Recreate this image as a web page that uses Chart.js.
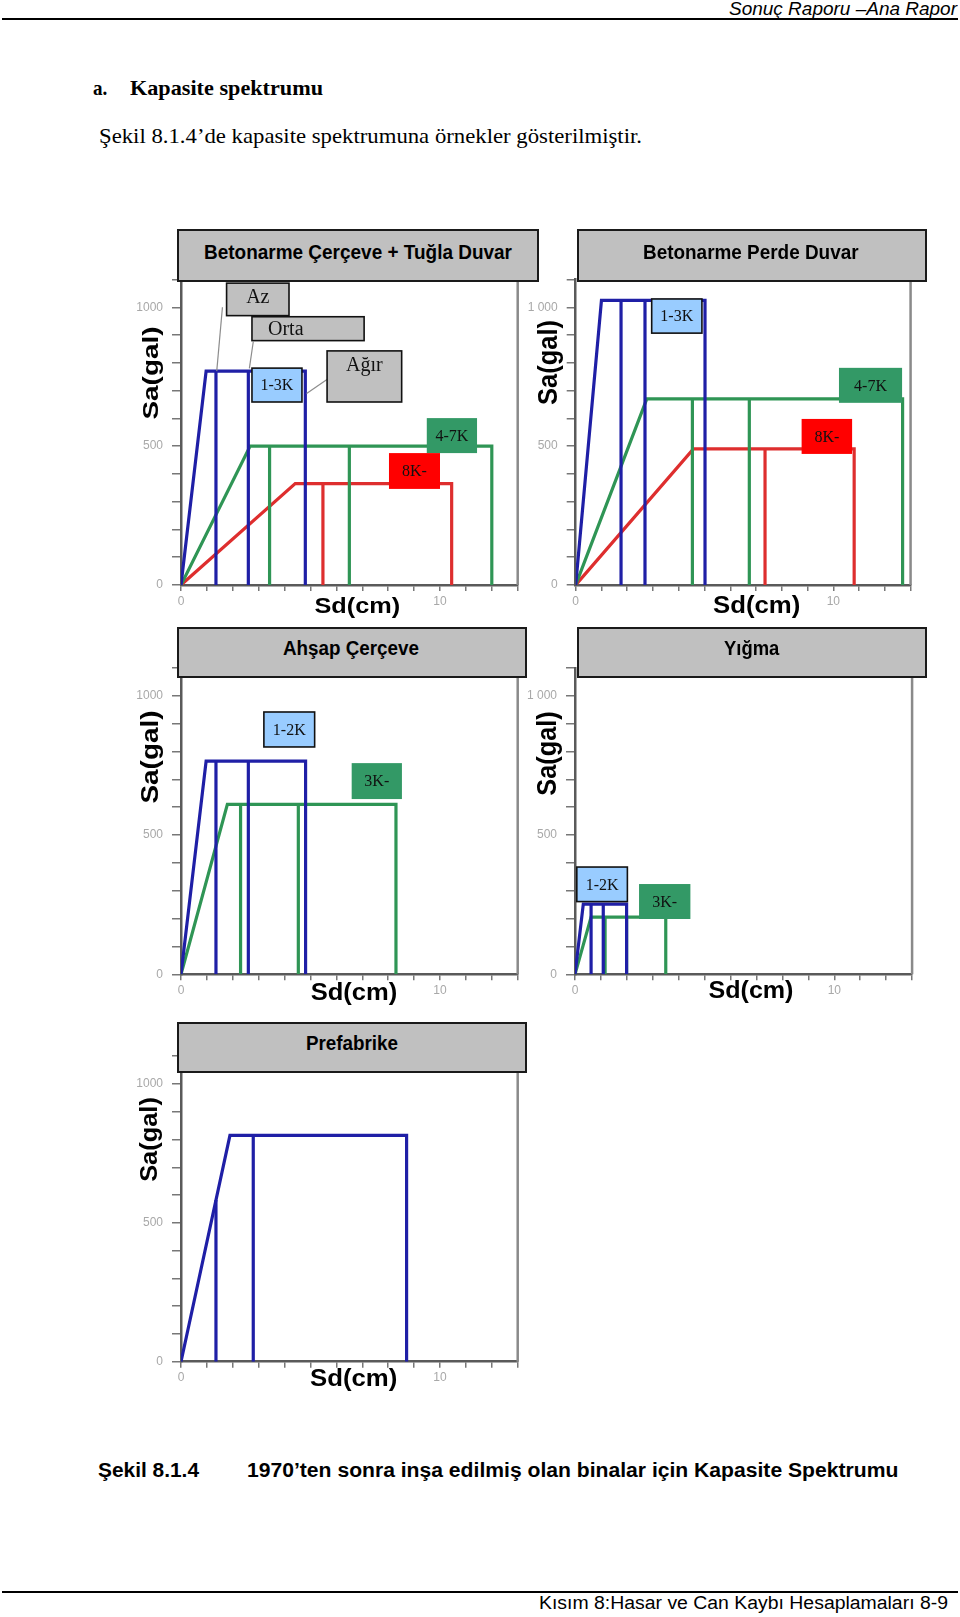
<!DOCTYPE html>
<html>
<head>
<meta charset="utf-8">
<script src="https://cdn.jsdelivr.net/npm/chart.js"></script>
<style>
  body { margin: 0; background: #fff; }
  #page { position: relative; width: 960px; height: 1617px; background: #fff; overflow: hidden; }
  .rule { position: absolute; left: 2px; width: 956px; height: 2px; background: #000; }
  .titlebox { position: absolute; box-sizing: border-box; background: #c0c0c0; border: 2px solid #1a1a1a; z-index: 3; }
  canvas { position: absolute; z-index: 1; }
</style>
</head>
<body>
<div id="page">
  <div class="rule" style="top:18px"></div>
  <div class="rule" style="top:1591px"></div>
</div>
<script>
// tick labels
var xTickValues = [0, 10];
var xTickLabels = ['0', '10'];
var yTickValues = [0, 500, 1000];
var yTickLabels = ['0', '500', '1000'];
var yTickLabelsSpaced = ['0', '500', '1 000'];

// blue, green, red
var seriesColors = ['#1f1fa6', '#2f9555', '#de2e2e'];

// Betonarme Çerçeve + Tuğla Duvar
var rcInfillGroups = ['1-3K', '4-7K', '8K-'];
var rcInfillYieldSd = [0.97, 2.67, 4.41];
var rcInfillYieldSa = [770, 500, 365];
var rcInfillLimits = [[1.35, 2.6, 4.8], [3.42, 6.5, 12.0], [5.48, 10.45]];

// Betonarme Perde Duvar
var rcWallGroups = ['1-3K', '4-7K', '8K-'];
var rcWallYieldSd = [1.0, 2.76, 4.57];
var rcWallYieldSa = [1025, 670, 490];
var rcWallLimits = [[1.76, 2.69, 5.02], [4.53, 6.74, 12.69], [7.35, 10.81]];

// Ahşap Çerçeve
var timberGroups = ['1-2K', '3K-'];
var timberYieldSd = [0.97, 1.79];
var timberYieldSa = [765, 610];
var timberLimits = [[1.35, 2.6, 4.81], [2.3, 4.53, 8.3]];

// Yığma
var masonryGroups = ['1-2K', '3K-'];
var masonryYieldSd = [0.32, 0.62];
var masonryYieldSa = [252, 205];
var masonryLimits = [[0.62, 1.09, 1.99], [1.16, 1.99, 3.5]];

// Prefabrike
var precastGroups = ['Prefabrike'];
var precastYieldSd = [1.89];
var precastYieldSa = [815];
var precastLimits = [[1.35, 2.79, 8.71]];

var page = document.getElementById('page');

// place a text so that it fills a measured width on the page
function addText(str, o) {
    var el = document.createElement('div');
    el.textContent = str;
    el.style.position = 'absolute';
    el.style.whiteSpace = 'nowrap';
    el.style.fontFamily = o.family;
    el.style.fontSize = o.size + 'px';
    el.style.lineHeight = o.size + 'px';
    el.style.fontWeight = o.weight || 'normal';
    el.style.fontStyle = o.style || 'normal';
    el.style.color = '#000';
    el.style.zIndex = 5;
    page.appendChild(el);
    var w = el.getBoundingClientRect().width;
    var asc = o.family.indexOf('Serif') >= 0 ? 0.8375 : 0.8465;
    if (o.cx !== undefined) {
        var sx = o.len / w;
        el.style.transformOrigin = '50% 50%';
        if (o.rotate) {
            el.style.left = (o.cx - 0.0865 * o.size - w / 2) + 'px';
            el.style.top = (o.cy - o.size / 2) + 'px';
            el.style.transform = 'rotate(-90deg) scaleX(' + sx + ')';
        } else {
            el.style.left = (o.cx - w / 2) + 'px';
            el.style.top = (o.cy - 0.5865 * o.size) + 'px';
            el.style.transform = 'scaleX(' + sx + ')';
        }
    } else {
        el.style.left = o.left + 'px';
        el.style.top = (o.baseline - asc * o.size) + 'px';
        el.style.transformOrigin = '0 0';
        el.style.transform = 'scaleX(' + ((o.right - o.left) / w) + ')';
    }
}

// page texts
addText('Sonuç Raporu –Ana Rapor', {family: 'Liberation Sans', size: 19, style: 'italic', left: 729, right: 957, baseline: 15.5});
addText('a.', {family: 'Liberation Serif', size: 21, weight: 'bold', left: 92.7, right: 107, baseline: 96});
addText('Kapasite spektrumu', {family: 'Liberation Serif', size: 21, weight: 'bold', left: 130, right: 323, baseline: 96});
addText('Şekil 8.1.4’de kapasite spektrumuna örnekler gösterilmiştir.', {family: 'Liberation Serif', size: 22, left: 99, right: 642, baseline: 143});
addText('Şekil 8.1.4', {family: 'Liberation Sans', size: 20, weight: 'bold', left: 98, right: 199, baseline: 1477});
addText('1970’ten sonra inşa edilmiş olan binalar için Kapasite Spektrumu', {family: 'Liberation Sans', size: 20, weight: 'bold', left: 246.7, right: 898, baseline: 1477});
addText('Kısım 8:Hasar ve Can Kaybı Hesaplamaları  8-9', {family: 'Liberation Sans', size: 18, left: 539, right: 948, baseline: 1609});

// label boxes and leader lines, right frame line
var panelDecor = {
    id: 'panelDecor',
    afterDatasetsDraw: function(chart, args, opts) {
        var ctx = chart.ctx, xs = chart.scales.x, ys = chart.scales.y, a = chart.chartArea;
        ctx.save();
        ctx.strokeStyle = '#8a8a8a';
        ctx.lineWidth = 2.5;
        ctx.beginPath();
        ctx.moveTo(a.right, a.top);
        ctx.lineTo(a.right, a.bottom);
        ctx.stroke();

        (opts.leaders || []).forEach(function(l) {
            ctx.strokeStyle = '#8c8c8c';
            ctx.lineWidth = 1.2;
            ctx.beginPath();
            ctx.moveTo(xs.getPixelForValue(l[0][0]), ys.getPixelForValue(l[0][1]));
            ctx.lineTo(xs.getPixelForValue(l[1][0]), ys.getPixelForValue(l[1][1]));
            ctx.stroke();
        });

        (opts.notes || []).forEach(function(n) {
            var x1 = xs.getPixelForValue(n.x[0]), x2 = xs.getPixelForValue(n.x[1]);
            var y1 = ys.getPixelForValue(n.y[0]), y2 = ys.getPixelForValue(n.y[1]);
            ctx.fillStyle = n.fill;
            ctx.fillRect(x1, y1, x2 - x1, y2 - y1);
            if (n.border) {
                ctx.strokeStyle = '#111';
                ctx.lineWidth = 1.6;
                ctx.strokeRect(x1, y1, x2 - x1, y2 - y1);
            }
            var size = n.size || 16;
            ctx.font = size + 'px "Liberation Serif"';
            ctx.fillStyle = '#111';
            ctx.textBaseline = 'alphabetic';
            var base = n.top ? y1 + 7 + 0.66 * size : (y1 + y2) / 2 + 0.33 * size;
            if (n.left) {
                ctx.textAlign = 'left';
                ctx.fillText(n.text, x1 + n.left, base);
            } else {
                ctx.textAlign = 'center';
                ctx.fillText(n.text, (x1 + x2) / 2, base);
            }
        });
        ctx.restore();
    }
};

function buildDatasets(p) {
    var ds = [];
    p.yieldSd.forEach(function(dy, g) {
        var ay = p.yieldSa[g];
        var lim = p.limits[g];
        var du = lim[lim.length - 1];
        var color = seriesColors[p.colors[g]];
        var style = {borderColor: color, borderWidth: 3.2, showLine: true, pointRadius: 0, tension: 0, fill: false};
        ds.push(Object.assign({label: p.groups[g], data: [{x: 0, y: 0}, {x: dy, y: ay}, {x: du, y: ay}, {x: du, y: 0}]}, style));
        lim.slice(0, -1).forEach(function(t) {
            ds.push(Object.assign({label: p.groups[g], data: [{x: t, y: 0}, {x: t, y: t < dy ? ay * t / dy : ay}]}, style));
        });
    });
    return ds;
}

var panels = [
    {
        title: 'Betonarme Çerçeve + Tuğla Duvar', groups: rcInfillGroups,
        yieldSd: rcInfillYieldSd, yieldSa: rcInfillYieldSa, limits: rcInfillLimits, colors: [0, 1, 2],
        yLabels: yTickLabels,
        x0: 181, pxCm: 25.9, y0: 585, pxGal: 0.2777,
        box: [176.7, 229.3, 539, 281.7], titleText: [204, 512, 259.3],
        sa: {cx: 152.7, cy: 373.3, len: 93, size: 22}, sd: {cx: 357.2, cy: 608.3, len: 85.7, size: 22},
        notes: [
            {text: 'Az', x: [1.76, 4.17], y: [1087, 970], fill: '#c0c0c0', border: true, size: 20, top: true},
            {text: 'Orta', x: [2.74, 7.07], y: [966, 880], fill: '#c0c0c0', border: true, size: 20, left: 16},
            {text: 'Ağır', x: [5.64, 8.52], y: [843, 659], fill: '#c0c0c0', border: true, size: 20, top: true},
            {text: '1-3K', x: [2.74, 4.67], y: [781, 659], fill: '#99ccff', border: true},
            {text: '4-7K', x: [9.49, 11.43], y: [601, 475], fill: '#339966'},
            {text: '8K-', x: [8.03, 10.0], y: [475, 346], fill: '#ff0000'}
        ],
        leaders: [[[1.6, 1000], [1.38, 770]], [[2.79, 876], [2.64, 780]], [[5.65, 741], [4.85, 690]]]
    },
    {
        title: 'Betonarme Perde Duvar', groups: rcWallGroups,
        yieldSd: rcWallYieldSd, yieldSa: rcWallYieldSa, limits: rcWallLimits, colors: [0, 1, 2],
        yLabels: yTickLabelsSpaced,
        x0: 575.7, pxCm: 25.76, y0: 585, pxGal: 0.2777,
        box: [576.7, 229.3, 927.3, 281.7], titleText: [643.4, 859, 259.3],
        sa: {cx: 550, cy: 362.5, len: 85, size: 27}, sd: {cx: 756.3, cy: 606.7, len: 87.3, size: 24},
        notes: [
            {text: '1-3K', x: [2.95, 4.90], y: [1030, 907], fill: '#99ccff', border: true},
            {text: '4-7K', x: [10.22, 12.67], y: [782, 656], fill: '#339966'},
            {text: '8K-', x: [8.77, 10.73], y: [598, 472], fill: '#ff0000'}
        ]
    },
    {
        title: 'Ahşap Çerçeve', groups: timberGroups,
        yieldSd: timberYieldSd, yieldSa: timberYieldSa, limits: timberLimits, colors: [0, 1],
        yLabels: yTickLabels,
        x0: 181, pxCm: 25.9, y0: 974.3, pxGal: 0.2786,
        box: [176.7, 626.7, 527.3, 677.7], titleText: [283.3, 419.3, 655.7],
        sa: {cx: 152, cy: 757.3, len: 93, size: 24}, sd: {cx: 354, cy: 994.2, len: 86.6, size: 23},
        notes: [
            {text: '1-2K', x: [3.20, 5.16], y: [941.5, 816], fill: '#99ccff', border: true},
            {text: '3K-', x: [6.59, 8.53], y: [758, 629], fill: '#339966'}
        ]
    },
    {
        title: 'Yığma', groups: masonryGroups,
        yieldSd: masonryYieldSd, yieldSa: masonryYieldSa, limits: masonryLimits, colors: [0, 1],
        yLabels: yTickLabelsSpaced,
        x0: 575, pxCm: 25.93, y0: 974.3, pxGal: 0.2786,
        box: [576.7, 626.7, 927.3, 678.3], titleText: [724, 779.3, 655.7],
        sa: {cx: 549, cy: 753, len: 84.3, size: 27}, sd: {cx: 750.8, cy: 992.5, len: 85, size: 23},
        notes: [
            {text: '1-2K', x: [0.07, 2.02], y: [385, 261], fill: '#99ccff', border: true},
            {text: '3K-', x: [2.47, 4.45], y: [324, 198.5], fill: '#339966'}
        ]
    },
    {
        title: 'Prefabrike', groups: precastGroups,
        yieldSd: precastYieldSd, yieldSa: precastYieldSa, limits: precastLimits, colors: [0],
        yLabels: yTickLabels,
        x0: 181, pxCm: 25.9, y0: 1361.7, pxGal: 0.2777,
        box: [176.7, 1022.3, 527.3, 1073.3], titleText: [305.7, 397.7, 1050.7],
        sa: {cx: 151.7, cy: 1139.3, len: 84.7, size: 23}, sd: {cx: 353.7, cy: 1380, len: 87.3, size: 24},
        notes: []
    }
];

panels.forEach(function(p) {
    var W = 13 * p.pxCm, H = 1100 * p.pxGal;
    // leave room above the plot for the axis' own label padding
    var left = Math.round(p.x0 - 60), top = Math.round(p.y0 - H - 22);
    var cw = Math.round(W + 72), ch = Math.round(H + 58);
    // wanted plot area inside the canvas
    var want = {left: p.x0 - left, top: p.y0 - H - top, right: p.x0 + W - left, bottom: p.y0 - top};
    var dims = {yW: want.left, xH: ch - want.bottom};
    var pad = {left: 0, top: want.top, right: cw - want.right, bottom: 0};

    var canvas = document.createElement('canvas');
    canvas.width = cw;
    canvas.height = ch;
    canvas.style.left = left + 'px';
    canvas.style.top = top + 'px';
    page.appendChild(canvas);

    var tb = document.createElement('div');
    tb.className = 'titlebox';
    tb.style.left = p.box[0] + 'px';
    tb.style.top = p.box[1] + 'px';
    tb.style.width = (p.box[2] - p.box[0]) + 'px';
    tb.style.height = (p.box[3] - p.box[1]) + 'px';
    page.appendChild(tb);
    addText(p.title, {family: 'Liberation Sans', size: 19.5, weight: 'bold', left: p.titleText[0], right: p.titleText[1], baseline: p.titleText[2]});
    addText('Sa(gal)', {family: 'Liberation Sans', size: p.sa.size, weight: 'bold', cx: p.sa.cx, cy: p.sa.cy, len: p.sa.len, rotate: true});
    addText('Sd(cm)', {family: 'Liberation Sans', size: p.sd.size, weight: 'bold', cx: p.sd.cx, cy: p.sd.cy, len: p.sd.len});

    var chart = new Chart(canvas.getContext('2d'), {
        type: 'scatter',
        data: { datasets: buildDatasets(p) },
        options: {
            responsive: false,
            animation: false,
            devicePixelRatio: 1,
            layout: { padding: pad },
            plugins: {
                legend: { display: false },
                tooltip: { enabled: false },
                panelDecor: { notes: p.notes, leaders: p.leaders }
            },
            scales: {
                x: {
                    type: 'linear', min: 0, max: 13,
                    afterFit: function(s) { s.height = dims.xH; },
                    border: { color: '#5a5a5a', width: 2.5 },
                    grid: { drawOnChartArea: false, drawTicks: true, tickLength: 6, color: '#777', lineWidth: 1.5 },
                    ticks: {
                        stepSize: 1, autoSkip: false, maxRotation: 0, padding: 3,
                        color: '#a8a8a8', font: { family: 'Liberation Sans', size: 12 },
                        callback: function(v) { var i = xTickValues.indexOf(v); return i >= 0 ? xTickLabels[i] : ''; }
                    }
                },
                y: {
                    type: 'linear', min: 0, max: 1100,
                    afterFit: function(s) { s.width = dims.yW; },
                    border: { color: '#5a5a5a', width: 2.5 },
                    grid: { drawOnChartArea: false, drawTicks: true, tickLength: 9, color: '#777', lineWidth: 1.5 },
                    ticks: {
                        stepSize: 100, autoSkip: false, padding: 9,
                        color: '#a8a8a8', font: { family: 'Liberation Sans', size: 12 },
                        callback: function(v) { var i = yTickValues.indexOf(v); return i >= 0 ? p.yLabels[i] : ''; }
                    }
                }
            }
        },
        plugins: [panelDecor]
    });

    // nudge layout so the plot area lands where the reference has it
    for (var k = 0; k < 3; k++) {
        var a = chart.chartArea;
        pad.top += want.top - a.top;
        pad.right += a.right - want.right;
        dims.yW += want.left - a.left;
        dims.xH += a.bottom - want.bottom;
        chart.options.layout.padding = {left: pad.left, top: pad.top, right: pad.right, bottom: pad.bottom};
        chart.update('none');
    }
});
</script>
</body>
</html>
